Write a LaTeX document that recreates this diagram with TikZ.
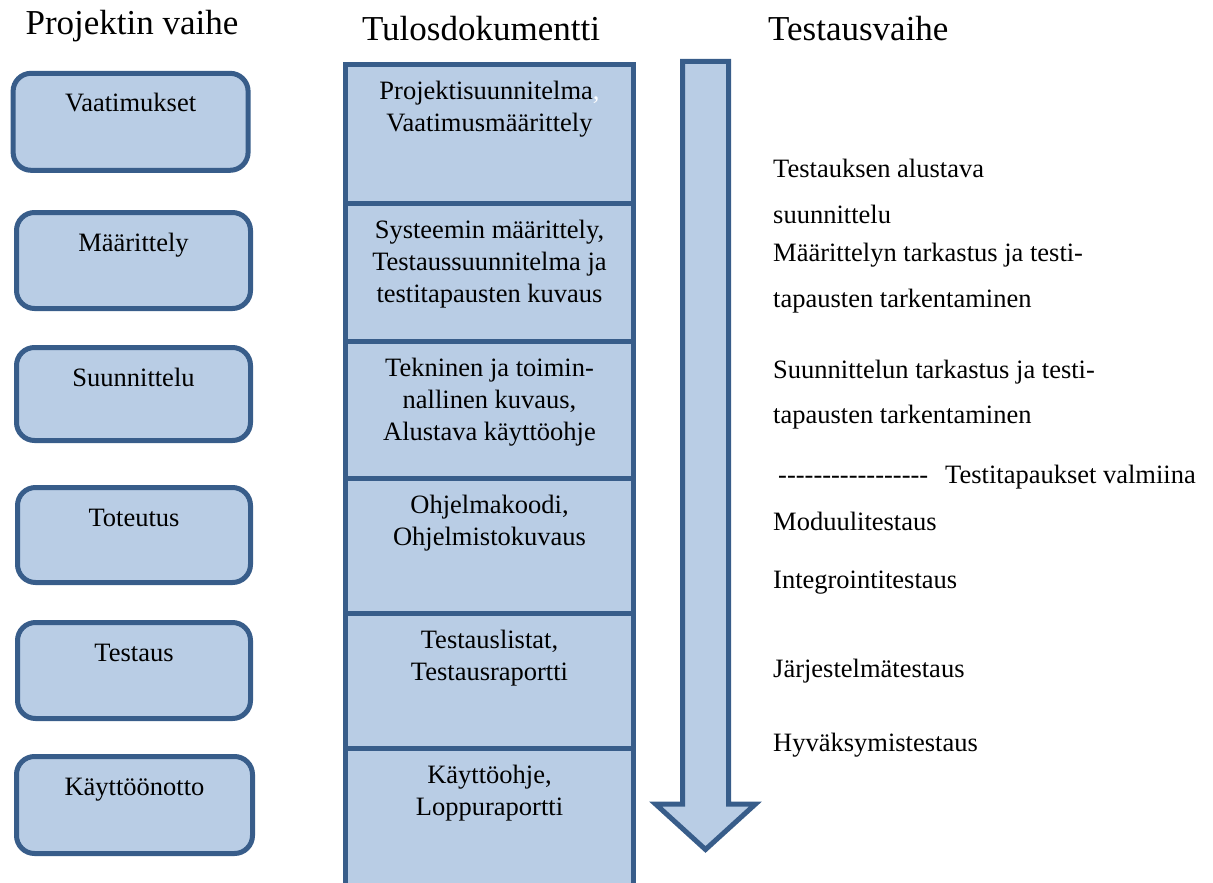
\documentclass[tikz,border=0pt]{standalone}
\usepackage{fontspec}
\setmainfont{Liberation Serif}
\usetikzlibrary{calc}
\definecolor{boxfill}{HTML}{B9CDE5}
\definecolor{boxline}{HTML}{385D8A}
\begin{document}
\begin{tikzpicture}[x=1pt,y=-1pt,
  phase/.style={draw=boxline, fill=boxfill, line width=5pt, rounded corners=18pt,
    inner sep=0pt, outer sep=0pt, minimum width=234pt, minimum height=96pt},
  cell/.style={draw=boxline, fill=boxfill, line width=5pt, inner sep=0pt, outer sep=0pt,
    minimum width=288pt},
  txt/.style={inner sep=0pt, font=\fontsize{26.5}{32}\selectfont},
  ctxt/.style={txt, align=center, anchor=north},
  ttl/.style={inner sep=0pt, font=\fontsize{35}{40}\selectfont, anchor=base},
  rtxt/.style={txt, anchor=base west}]
\useasboundingbox (0,0) rectangle (1213,883);

% titles
\node[ttl] (t1) at (132,35) {Projektin vaihe};
\node[ttl] (t2) at (481,41) {Tulosdokumentti};
\node[ttl, anchor=base west] (t3) at (768,41) {Testausvaihe};

% project phases
\node[phase, minimum width=235pt, minimum height=97pt] (p1) at (130.6,121.8) {};
\node[phase] (p2) at (133.5,260.5) {};
\node[phase, minimum height=93pt] (p3) at (133.5,394) {};
\node[phase, minimum width=233pt, minimum height=95pt] (p4) at (134,535) {};
\node[phase, minimum width=233pt] (p5) at (134,670.5) {};
\node[phase, minimum width=236pt, minimum height=97pt] (p6) at (134.5,805) {};
\foreach \n/\t in {p1/Vaatimukset, p2/Määrittely, p3/Suunnittelu, p4/Toteutus, p5/Testaus, p6/Käyttöönotto}
  \node[txt, anchor=base] (\n l) at ([yshift=-38.5pt]\n.north) {\t};

% result documents column
\node[cell, minimum height=138.5pt] (c1) at (489.5,133.75) {};
\node[cell, minimum height=138pt] (c2) at (489.5,272) {};
\node[cell, minimum height=137pt] (c3) at (489.5,409.5) {};
\node[cell, minimum height=135pt] (c4) at (489.5,545.5) {};
\node[cell, minimum height=135pt] (c5) at (489.5,680.5) {};
\node[fill=boxfill, inner sep=0pt, outer sep=0pt, minimum width=288pt, minimum height=135pt] (c6) at (489.5,815.5) {};
\draw[boxline, line width=5pt] (c6.south west) -- (c6.north west) -- (c6.north east) -- (c6.south east);

\node[ctxt] (c1t) at ([yshift=-16.5pt]c1.north) {Projektisuunnitelma{\color{white},}\\Vaatimusmäärittely};
\node[ctxt] (c2t) at ([yshift=-16.5pt]c2.north) {Systeemin määrittely,\\Testaussuunnitelma ja\\testitapausten kuvaus};
\node[ctxt] (c3t) at ([yshift=-16.5pt]c3.north) {Tekninen ja toimin-\\nallinen kuvaus,\\Alustava käyttöohje};
\node[ctxt] (c4t) at ([yshift=-16.5pt]c4.north) {Ohjelmakoodi,\\Ohjelmistokuvaus};
\node[ctxt] (c5t) at ([yshift=-16.5pt]c5.north) {Testauslistat,\\Testausraportti};
\node[ctxt] (c6t) at ([yshift=-16.5pt]c6.north) {Käyttöohje,\\Loppuraportti};

% big down arrow
\draw[boxline, fill=boxfill, line width=5pt, miter limit=4]
  (682.5,61.5) -- (728.5,61.5) -- (728.5,804) -- (755.5,804) -- (705.5,849.5)
  -- (655.5,804) -- (682.5,804) -- cycle;

% test phases
\node[rtxt] (r1) at (773,177) {Testauksen alustava};
\node[rtxt] (r2) at (773,223) {suunnittelu};
\node[rtxt] (r3) at (773,261) {Määrittelyn tarkastus ja testi-};
\node[rtxt] (r4) at (773,307) {tapausten tarkentaminen};
\node[rtxt] (r5) at (773,378) {Suunnittelun tarkastus ja testi-};
\node[rtxt] (r6) at (773,423) {tapausten tarkentaminen};
\node[rtxt] (r7) at (778,483.3) {-{}-{}-{}-{}-{}-{}-{}-{}-{}-{}-{}-{}-{}-{}-{}-{}-\hspace{17pt}Testitapaukset valmiina};
\node[rtxt] (r8) at (773,530.7) {Moduulitestaus};
\node[rtxt] (r9) at (773,588) {Integrointitestaus};
\node[rtxt] (r10) at (773,677) {Järjestelmätestaus};
\node[rtxt] (r11) at (773,751) {Hyväksymistestaus};
\end{tikzpicture}
\end{document}
